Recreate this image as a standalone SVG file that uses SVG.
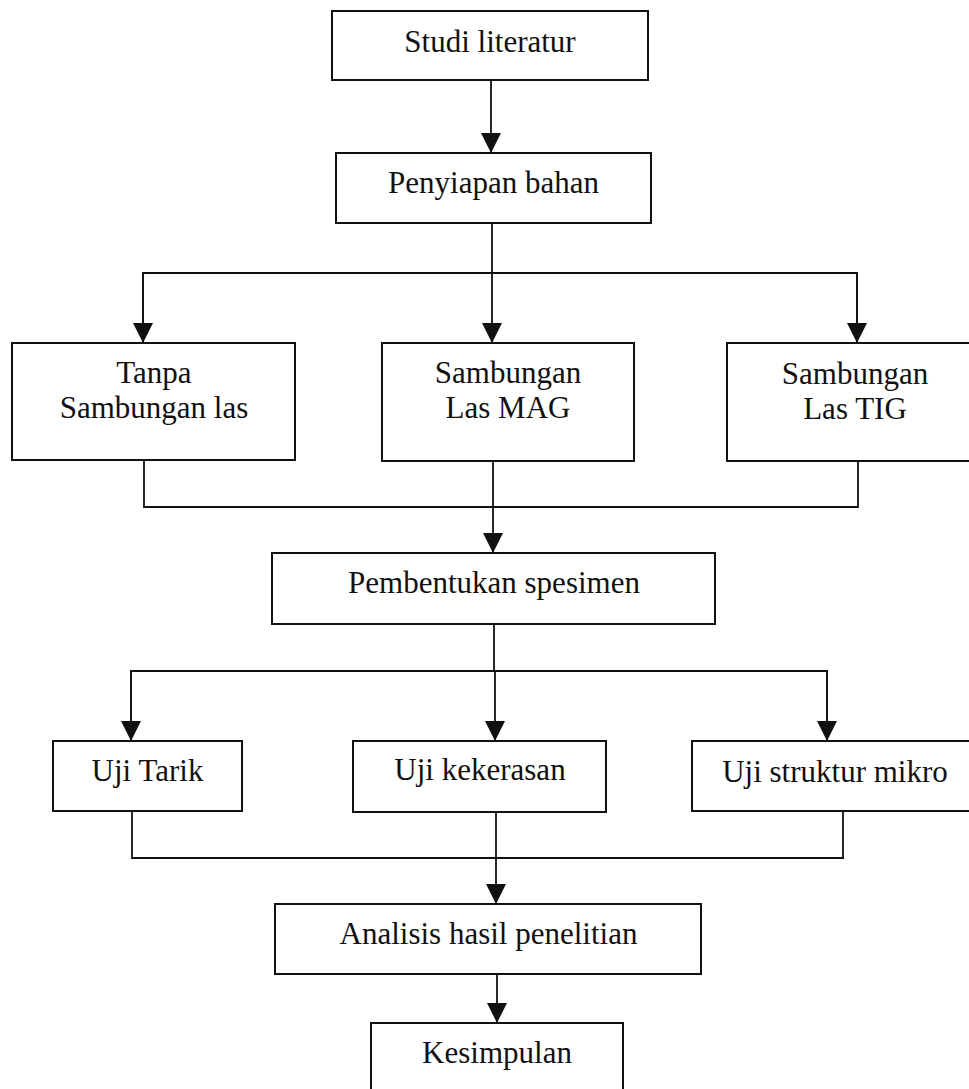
<svg xmlns="http://www.w3.org/2000/svg" width="969" height="1089" viewBox="0 0 969 1089">
<style>
.box{fill:#fff;stroke:#111;stroke-width:2}
.ln{fill:none;stroke:#111;stroke-width:1.8}
.t{font-family:"Liberation Serif","Times New Roman",serif;font-size:31px;fill:#111;text-anchor:middle}
</style>
<defs>
<marker id="ah" markerUnits="userSpaceOnUse" markerWidth="20" markerHeight="20" refX="20" refY="10" orient="auto" viewBox="0 0 20 20">
<path d="M0,0 L20,10 L0,20 z" fill="#111"/>
</marker>
</defs>
<rect width="969" height="1089" fill="#fff"/>
<g id="connectors">
<line class="ln" x1="491" y1="80" x2="491" y2="153" marker-end="url(#ah)"/>
<polyline class="ln" points="492,223 492,273"/>
<polyline class="ln" points="143,343 143,273 857,273 857,343" />
<line class="ln" x1="143" y1="273" x2="143" y2="343" marker-end="url(#ah)"/>
<line class="ln" x1="857" y1="273" x2="857" y2="343" marker-end="url(#ah)"/>
<line class="ln" x1="492" y1="273" x2="492" y2="343" marker-end="url(#ah)"/>
<polyline class="ln" points="144,460 144,507 858,507 858,461"/>
<line class="ln" x1="493" y1="461" x2="493" y2="553" marker-end="url(#ah)"/>
<line class="ln" x1="494" y1="624" x2="494" y2="671"/>
<polyline class="ln" points="131,741 131,671 827,671 827,741"/>
<line class="ln" x1="131" y1="671" x2="131" y2="741" marker-end="url(#ah)"/>
<line class="ln" x1="827" y1="671" x2="827" y2="741" marker-end="url(#ah)"/>
<line class="ln" x1="495" y1="671" x2="495" y2="741" marker-end="url(#ah)"/>
<polyline class="ln" points="132,811 132,858 843,858 843,811"/>
<line class="ln" x1="496" y1="812" x2="496" y2="904" marker-end="url(#ah)"/>
<line class="ln" x1="497" y1="974" x2="497" y2="1023" marker-end="url(#ah)"/>
</g>
<g id="studi">
<rect class="box" x="332" y="11" width="316" height="69"/>
<text class="t" x="490" y="52">Studi literatur</text>
</g>
<g id="penyiapan">
<rect class="box" x="336" y="153" width="315" height="70"/>
<text class="t" x="493.5" y="193">Penyiapan bahan</text>
</g>
<g id="tanpa">
<rect class="box" x="12" y="343" width="283" height="117"/>
<text class="t" x="154" y="383">Tanpa</text>
<text class="t" x="154" y="418">Sambungan las</text>
</g>
<g id="mag">
<rect class="box" x="382" y="343" width="252" height="118"/>
<text class="t" x="508" y="383">Sambungan</text>
<text class="t" x="508" y="418">Las MAG</text>
</g>
<g id="tig">
<rect class="box" x="727" y="343" width="256" height="118"/>
<text class="t" x="855" y="384">Sambungan</text>
<text class="t" x="855" y="419">Las TIG</text>
</g>
<g id="pembentukan">
<rect class="box" x="272" y="553" width="443" height="71"/>
<text class="t" x="494" y="593">Pembentukan spesimen</text>
</g>
<g id="tarik">
<rect class="box" x="53" y="741" width="189" height="70"/>
<text class="t" x="147.5" y="781">Uji Tarik</text>
</g>
<g id="kekerasan">
<rect class="box" x="353" y="741" width="253" height="71"/>
<text class="t" x="480" y="780">Uji kekerasan</text>
</g>
<g id="struktur">
<rect class="box" x="692" y="741" width="286" height="70"/>
<text class="t" x="835" y="782">Uji struktur mikro</text>
</g>
<g id="analisis">
<rect class="box" x="275" y="904" width="426" height="70"/>
<text class="t" x="488.5" y="944">Analisis hasil penelitian</text>
</g>
<g id="kesimpulan">
<rect class="box" x="371" y="1023" width="252" height="80"/>
<text class="t" x="497" y="1063">Kesimpulan</text>
</g>
</svg>
